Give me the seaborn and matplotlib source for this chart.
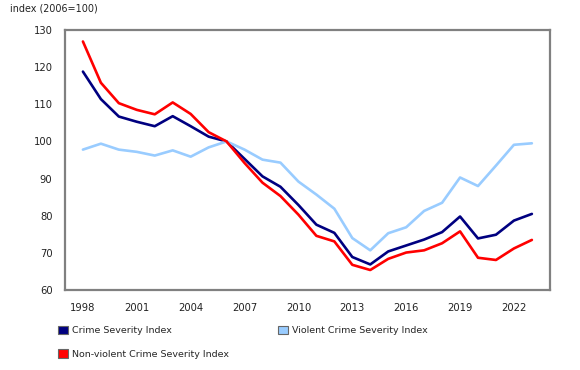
import matplotlib
matplotlib.use("Agg")
import matplotlib.pyplot as plt
from matplotlib.patches import Patch
from matplotlib.ticker import MultipleLocator
import seaborn as sns
import pandas as pd

years = list(range(1998, 2024))

crime_severity = [118.8, 111.4, 106.7, 105.3, 104.1, 106.8, 104.1, 101.3, 100.0,
                  95.3, 90.6, 87.8, 82.9, 77.6, 75.4, 68.9, 66.9, 70.4, 72.0,
                  73.6, 75.6, 79.8, 73.9, 74.9, 78.7, 80.5]
violent_severity = [97.8, 99.4, 97.8, 97.2, 96.2, 97.6, 95.9, 98.4, 100.0,
                    97.8, 95.1, 94.3, 89.2, 85.7, 81.9, 74.0, 70.7, 75.3, 76.9,
                    81.3, 83.5, 90.3, 88.0, 93.5, 99.1, 99.5]
nonviolent_severity = [126.9, 115.8, 110.3, 108.5, 107.3, 110.5, 107.4, 102.5, 100.0,
                       94.2, 88.9, 85.3, 80.3, 74.6, 73.1, 66.8, 65.4, 68.4, 70.1,
                       70.7, 72.6, 75.8, 68.7, 68.1, 71.2, 73.5]

series_names = ["Crime Severity Index", "Violent Crime Severity Index",
                "Non-violent Crime Severity Index"]
colours = ["#000080", "#99ccff", "#ff0000"]

df = pd.DataFrame({
    "year": years * 3,
    "value": crime_severity + violent_severity + nonviolent_severity,
    "series": [series_names[0]] * len(years) + [series_names[1]] * len(years)
              + [series_names[2]] * len(years),
})

sns.set_style("white")
plt.rcParams["font.family"] = ["DejaVu Sans"]
plt.rcParams["font.size"] = 7.2

fig = plt.figure(figsize=(5.8, 3.7), dpi=100)
ax = fig.add_axes([0.112, 0.216, 0.836, 0.703])

sns.lineplot(data=df, x="year", y="value", hue="series", hue_order=series_names,
             palette=colours, linewidth=1.9, ax=ax, legend=False)

ax.set_xlim(1997, 2024)
ax.set_ylim(60, 130)
ax.set_xticks(years[::3])
ax.xaxis.set_minor_locator(MultipleLocator(1))
ax.yaxis.set_major_locator(MultipleLocator(10))
ax.set_xlabel("")
ax.set_ylabel("")

for side in ["left", "right", "top", "bottom"]:
    ax.spines[side].set_color("#808080")
    ax.spines[side].set_linewidth(1.6)

ax.tick_params(axis="x", which="both", direction="in", length=5, width=1,
               color="#333333", pad=9, labelcolor="#222222")
ax.tick_params(axis="y", which="major", direction="out", length=2, width=1,
               color="#808080", pad=7, labelcolor="#222222")

fig.text(0.017, 0.978, "index (2006=100)", fontsize=6.9, color="#222222",
         va="center", ha="left")

handles = [Patch(facecolor=c, edgecolor="#666666", linewidth=0.8) for c in colours]
order = [0, 2, 1]
fig.legend([handles[i] for i in order], [series_names[i] for i in order],
           loc="upper left", bbox_to_anchor=(0.1, 0.12), ncol=2, frameon=False,
           handlelength=1.05, handleheight=1.05, handletextpad=0.45,
           columnspacing=5.15, labelspacing=1.5, fontsize=6.8, borderaxespad=0,
           borderpad=0)

fig.savefig("out.png", dpi=100)
